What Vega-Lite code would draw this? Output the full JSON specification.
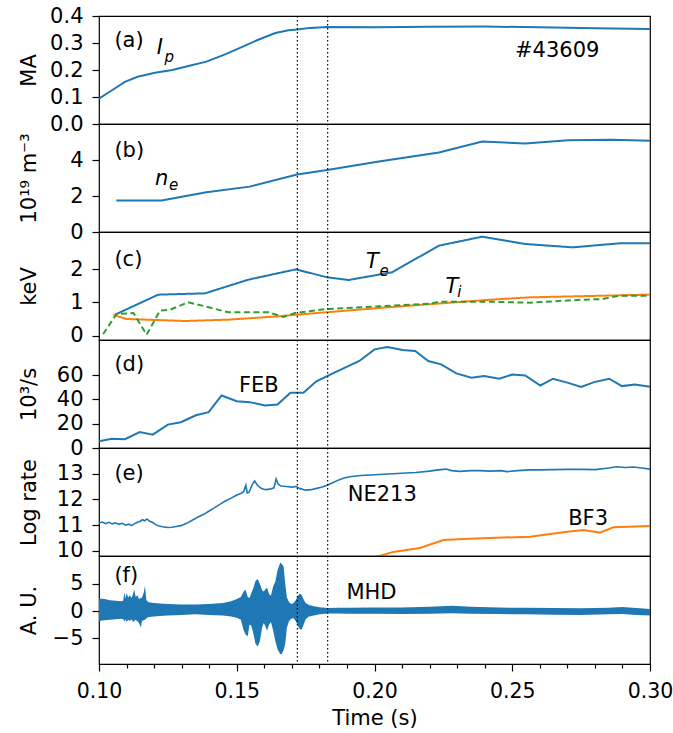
{
  "$schema": "https://vega.github.io/schema/vega-lite/v6.json",
  "padding": {"left": 17, "top": 4, "right": 0, "bottom": 5},
  "background": "white",
  "spacing": 0,
  "bounds": "flush",
  "config": {
    "font": "DejaVu Sans",
    "view": {"stroke": "black", "strokeWidth": 1.2},
    "axis": {"grid": false, "domain": false, "tickColor": "black", "tickWidth": 1.2, "tickSize": 7, "labelColor": "black", "titleColor": "black", "labelFontSize": 21, "titleFontSize": 21, "titleFontWeight": "normal", "labelPadding": 9, "labelOverlap": false},
    "axisY": {"titleX": -64, "titleBaseline": "alphabetic"},
    "text": {"font": "DejaVu Sans", "color": "black"}
  },
  "datasets": {
    "vlines": [{"t": 0.172}, {"t": 0.183}],
    "ip": [
      {"t": 0.1000, "v": 0.094}, {"t": 0.1047, "v": 0.125}, {"t": 0.1094, "v": 0.156}, {"t": 0.1140, "v": 0.175},
      {"t": 0.1203, "v": 0.190}, {"t": 0.1266, "v": 0.200}, {"t": 0.1328, "v": 0.216}, {"t": 0.1390, "v": 0.231},
      {"t": 0.1453, "v": 0.256}, {"t": 0.1516, "v": 0.284}, {"t": 0.1578, "v": 0.312}, {"t": 0.1640, "v": 0.337},
      {"t": 0.1688, "v": 0.347}, {"t": 0.1720, "v": 0.350}, {"t": 0.1766, "v": 0.356}, {"t": 0.1828, "v": 0.359},
      {"t": 0.2000, "v": 0.358}, {"t": 0.2200, "v": 0.360}, {"t": 0.2400, "v": 0.361}, {"t": 0.2600, "v": 0.358},
      {"t": 0.2800, "v": 0.355}, {"t": 0.3000, "v": 0.352}
    ],
    "ne": [
      {"t": 0.1063, "v": 1.75}, {"t": 0.1227, "v": 1.75}, {"t": 0.1390, "v": 2.21}, {"t": 0.1547, "v": 2.52},
      {"t": 0.1719, "v": 3.19}, {"t": 0.1828, "v": 3.44}, {"t": 0.2016, "v": 3.92}, {"t": 0.2234, "v": 4.42},
      {"t": 0.2391, "v": 5.03}, {"t": 0.2547, "v": 4.92}, {"t": 0.2703, "v": 5.10}, {"t": 0.2859, "v": 5.12},
      {"t": 0.3000, "v": 5.07}
    ],
    "temp": [
      {"series": "Te", "t": 0.1058, "v": 0.63}, {"series": "Te", "t": 0.1215, "v": 1.23}, {"series": "Te", "t": 0.1385, "v": 1.27},
      {"series": "Te", "t": 0.1542, "v": 1.68}, {"series": "Te", "t": 0.1715, "v": 1.99}, {"series": "Te", "t": 0.1828, "v": 1.75},
      {"series": "Te", "t": 0.1906, "v": 1.67}, {"series": "Te", "t": 0.2063, "v": 1.90}, {"series": "Te", "t": 0.2234, "v": 2.70},
      {"series": "Te", "t": 0.2391, "v": 2.97}, {"series": "Te", "t": 0.2547, "v": 2.75}, {"series": "Te", "t": 0.2719, "v": 2.65},
      {"series": "Te", "t": 0.2890, "v": 2.77}, {"series": "Te", "t": 0.3000, "v": 2.77},
      {"series": "Ti", "t": 0.1052, "v": 0.62}, {"series": "Ti", "t": 0.1100, "v": 0.50}, {"series": "Ti", "t": 0.1173, "v": 0.48},
      {"series": "Ti", "t": 0.1312, "v": 0.44}, {"series": "Ti", "t": 0.1469, "v": 0.48}, {"series": "Ti", "t": 0.1651, "v": 0.58},
      {"series": "Ti", "t": 0.1719, "v": 0.63}, {"series": "Ti", "t": 0.2047, "v": 0.85}, {"series": "Ti", "t": 0.2406, "v": 1.07},
      {"series": "Ti", "t": 0.2563, "v": 1.15}, {"series": "Ti", "t": 0.3000, "v": 1.23},
      {"series": "Ti2", "t": 0.1015, "v": 0.05}, {"series": "Ti2", "t": 0.1064, "v": 0.65}, {"series": "Ti2", "t": 0.1125, "v": 0.68},
      {"series": "Ti2", "t": 0.1173, "v": 0.03}, {"series": "Ti2", "t": 0.1221, "v": 0.75}, {"series": "Ti2", "t": 0.1258, "v": 0.78},
      {"series": "Ti2", "t": 0.1324, "v": 1.00}, {"series": "Ti2", "t": 0.1385, "v": 0.88}, {"series": "Ti2", "t": 0.1469, "v": 0.70},
      {"series": "Ti2", "t": 0.1615, "v": 0.70}, {"series": "Ti2", "t": 0.1669, "v": 0.56}, {"series": "Ti2", "t": 0.1711, "v": 0.68},
      {"series": "Ti2", "t": 0.1828, "v": 0.80}, {"series": "Ti2", "t": 0.2203, "v": 0.96}, {"series": "Ti2", "t": 0.2234, "v": 1.02},
      {"series": "Ti2", "t": 0.2406, "v": 1.02}, {"series": "Ti2", "t": 0.2563, "v": 0.99}, {"series": "Ti2", "t": 0.2734, "v": 1.07},
      {"series": "Ti2", "t": 0.2828, "v": 1.10}, {"series": "Ti2", "t": 0.2890, "v": 1.20}, {"series": "Ti2", "t": 0.3000, "v": 1.20}
    ],
    "feb": [
      {"t": 0.1000, "v": 5.5}, {"t": 0.1047, "v": 7.7}, {"t": 0.1094, "v": 7.2}, {"t": 0.1148, "v": 13.2},
      {"t": 0.1195, "v": 11.0}, {"t": 0.1250, "v": 19.3}, {"t": 0.1297, "v": 21.2}, {"t": 0.1352, "v": 27.0},
      {"t": 0.1398, "v": 29.5}, {"t": 0.1445, "v": 43.3}, {"t": 0.1500, "v": 38.6}, {"t": 0.1547, "v": 37.8},
      {"t": 0.1602, "v": 35.0}, {"t": 0.1648, "v": 35.8}, {"t": 0.1695, "v": 45.5}, {"t": 0.1742, "v": 45.5},
      {"t": 0.1789, "v": 55.0}, {"t": 0.1828, "v": 59.3}, {"t": 0.1891, "v": 66.0}, {"t": 0.1945, "v": 71.7},
      {"t": 0.2000, "v": 81.3}, {"t": 0.2047, "v": 83.2}, {"t": 0.2102, "v": 80.7}, {"t": 0.2148, "v": 79.9},
      {"t": 0.2195, "v": 71.7}, {"t": 0.2242, "v": 68.9}, {"t": 0.2297, "v": 61.5}, {"t": 0.2352, "v": 57.9},
      {"t": 0.2398, "v": 59.3}, {"t": 0.2453, "v": 57.1}, {"t": 0.2500, "v": 60.6}, {"t": 0.2547, "v": 59.8},
      {"t": 0.2602, "v": 51.5}, {"t": 0.2648, "v": 57.1}, {"t": 0.2703, "v": 53.7}, {"t": 0.2750, "v": 50.4},
      {"t": 0.2797, "v": 54.3}, {"t": 0.2852, "v": 57.1}, {"t": 0.2898, "v": 51.0}, {"t": 0.2945, "v": 52.4},
      {"t": 0.3000, "v": 50.4}
    ],
    "ne213": [
      {"t": 0.1000, "v": 11.08}, {"t": 0.1012, "v": 11.12}, {"t": 0.1024, "v": 11.06}, {"t": 0.1036, "v": 11.11},
      {"t": 0.1048, "v": 11.05}, {"t": 0.1060, "v": 11.09}, {"t": 0.1072, "v": 11.03}, {"t": 0.1084, "v": 11.07},
      {"t": 0.1096, "v": 11.00}, {"t": 0.1108, "v": 11.04}, {"t": 0.1118, "v": 10.98}, {"t": 0.1128, "v": 11.05},
      {"t": 0.1138, "v": 11.10}, {"t": 0.1148, "v": 11.14}, {"t": 0.1158, "v": 11.21}, {"t": 0.1166, "v": 11.17},
      {"t": 0.1174, "v": 11.24}, {"t": 0.1184, "v": 11.15}, {"t": 0.1195, "v": 11.10}, {"t": 0.1205, "v": 11.03},
      {"t": 0.1215, "v": 10.98}, {"t": 0.1230, "v": 10.94}, {"t": 0.1250, "v": 10.91}, {"t": 0.1265, "v": 10.92},
      {"t": 0.1280, "v": 10.95}, {"t": 0.1300, "v": 10.99}, {"t": 0.1320, "v": 11.08}, {"t": 0.1340, "v": 11.20},
      {"t": 0.1360, "v": 11.32}, {"t": 0.1380, "v": 11.42}, {"t": 0.1400, "v": 11.55}, {"t": 0.1420, "v": 11.68},
      {"t": 0.1440, "v": 11.82}, {"t": 0.1460, "v": 11.95}, {"t": 0.1480, "v": 12.05}, {"t": 0.1500, "v": 12.17},
      {"t": 0.1515, "v": 12.23}, {"t": 0.1525, "v": 12.30}, {"t": 0.1533, "v": 12.55}, {"t": 0.1538, "v": 12.25},
      {"t": 0.1545, "v": 12.28}, {"t": 0.1555, "v": 12.55}, {"t": 0.1565, "v": 12.72}, {"t": 0.1575, "v": 12.55},
      {"t": 0.1590, "v": 12.42}, {"t": 0.1605, "v": 12.38}, {"t": 0.1620, "v": 12.40}, {"t": 0.1635, "v": 12.45},
      {"t": 0.1643, "v": 12.80}, {"t": 0.1650, "v": 12.60}, {"t": 0.1660, "v": 12.52}, {"t": 0.1680, "v": 12.50},
      {"t": 0.1700, "v": 12.48}, {"t": 0.1715, "v": 12.50}, {"t": 0.1730, "v": 12.42}, {"t": 0.1750, "v": 12.36},
      {"t": 0.1770, "v": 12.38}, {"t": 0.1790, "v": 12.43}, {"t": 0.1810, "v": 12.48}, {"t": 0.1830, "v": 12.56},
      {"t": 0.1850, "v": 12.66}, {"t": 0.1870, "v": 12.76}, {"t": 0.1890, "v": 12.83}, {"t": 0.1910, "v": 12.88},
      {"t": 0.1950, "v": 12.93}, {"t": 0.2000, "v": 12.96}, {"t": 0.2050, "v": 12.99}, {"t": 0.2100, "v": 13.02},
      {"t": 0.2150, "v": 13.05}, {"t": 0.2200, "v": 13.10}, {"t": 0.2230, "v": 13.15}, {"t": 0.2260, "v": 13.18},
      {"t": 0.2280, "v": 13.12}, {"t": 0.2310, "v": 13.09}, {"t": 0.2350, "v": 13.12}, {"t": 0.2380, "v": 13.12},
      {"t": 0.2420, "v": 13.10}, {"t": 0.2460, "v": 13.12}, {"t": 0.2480, "v": 13.08}, {"t": 0.2520, "v": 13.12},
      {"t": 0.2560, "v": 13.15}, {"t": 0.2600, "v": 13.15}, {"t": 0.2650, "v": 13.16}, {"t": 0.2700, "v": 13.17},
      {"t": 0.2750, "v": 13.17}, {"t": 0.2800, "v": 13.16}, {"t": 0.2850, "v": 13.22}, {"t": 0.2880, "v": 13.27},
      {"t": 0.2910, "v": 13.24}, {"t": 0.2940, "v": 13.26}, {"t": 0.2970, "v": 13.22}, {"t": 0.3000, "v": 13.18}
    ],
    "bf3": [
      {"t": 0.1985, "v": 9.70}, {"t": 0.2068, "v": 9.96}, {"t": 0.2165, "v": 10.11}, {"t": 0.2250, "v": 10.42},
      {"t": 0.2322, "v": 10.46}, {"t": 0.2444, "v": 10.51}, {"t": 0.2564, "v": 10.55}, {"t": 0.2685, "v": 10.72},
      {"t": 0.2758, "v": 10.81}, {"t": 0.2818, "v": 10.71}, {"t": 0.2867, "v": 10.92}, {"t": 0.3000, "v": 10.97}
    ],
    "mhd": [
      {"t": 0.1000, "hi": 2.3, "lo": -1.8}, {"t": 0.1020, "hi": 2.2, "lo": -1.7}, {"t": 0.1040, "hi": 2.0, "lo": -1.6},
      {"t": 0.1060, "hi": 1.9, "lo": -1.5}, {"t": 0.1080, "hi": 1.8, "lo": -1.4}, {"t": 0.1088, "hi": 1.9, "lo": -1.5},
      {"t": 0.1092, "hi": 3.4, "lo": -1.9}, {"t": 0.1096, "hi": 2.3, "lo": -1.5}, {"t": 0.1100, "hi": 3.3, "lo": -2.0},
      {"t": 0.1106, "hi": 2.5, "lo": -1.6}, {"t": 0.1112, "hi": 2.9, "lo": -1.8}, {"t": 0.1118, "hi": 2.4, "lo": -1.5},
      {"t": 0.1124, "hi": 3.2, "lo": -2.0}, {"t": 0.1128, "hi": 4.0, "lo": -1.8}, {"t": 0.1133, "hi": 2.6, "lo": -1.6},
      {"t": 0.1140, "hi": 2.9, "lo": -1.9}, {"t": 0.1145, "hi": 2.2, "lo": -2.2}, {"t": 0.1152, "hi": 2.4, "lo": -3.0},
      {"t": 0.1156, "hi": 2.5, "lo": -1.8}, {"t": 0.1162, "hi": 3.3, "lo": -1.7}, {"t": 0.1167, "hi": 4.6, "lo": -1.6},
      {"t": 0.1172, "hi": 2.0, "lo": -1.3}, {"t": 0.1180, "hi": 1.6, "lo": -1.1}, {"t": 0.1200, "hi": 1.5, "lo": -1.0},
      {"t": 0.1220, "hi": 1.4, "lo": -0.9}, {"t": 0.1250, "hi": 1.3, "lo": -0.8}, {"t": 0.1300, "hi": 1.2, "lo": -0.7},
      {"t": 0.1350, "hi": 1.2, "lo": -0.6}, {"t": 0.1400, "hi": 1.3, "lo": -0.7}, {"t": 0.1450, "hi": 1.5, "lo": -0.8},
      {"t": 0.1480, "hi": 1.8, "lo": -1.0}, {"t": 0.1500, "hi": 2.2, "lo": -1.2}, {"t": 0.1515, "hi": 2.6, "lo": -1.6},
      {"t": 0.1525, "hi": 3.6, "lo": -3.5}, {"t": 0.1532, "hi": 3.9, "lo": -4.3}, {"t": 0.1540, "hi": 2.6, "lo": -4.6},
      {"t": 0.1546, "hi": 2.4, "lo": -2.5}, {"t": 0.1552, "hi": 3.2, "lo": -2.6}, {"t": 0.1560, "hi": 4.2, "lo": -4.0},
      {"t": 0.1568, "hi": 5.5, "lo": -6.0}, {"t": 0.1576, "hi": 5.9, "lo": -6.5}, {"t": 0.1584, "hi": 5.0, "lo": -5.5},
      {"t": 0.1592, "hi": 3.8, "lo": -3.0}, {"t": 0.1598, "hi": 3.6, "lo": -2.2}, {"t": 0.1604, "hi": 4.0, "lo": -2.8},
      {"t": 0.1610, "hi": 4.3, "lo": -3.6}, {"t": 0.1617, "hi": 3.2, "lo": -2.5}, {"t": 0.1624, "hi": 2.8, "lo": -2.0},
      {"t": 0.1632, "hi": 4.5, "lo": -3.5}, {"t": 0.1640, "hi": 5.4, "lo": -5.5}, {"t": 0.1648, "hi": 7.5, "lo": -7.0},
      {"t": 0.1658, "hi": 8.9, "lo": -7.9}, {"t": 0.1664, "hi": 8.6, "lo": -7.8}, {"t": 0.1670, "hi": 8.2, "lo": -7.2},
      {"t": 0.1676, "hi": 5.0, "lo": -6.0}, {"t": 0.1682, "hi": 2.5, "lo": -3.0}, {"t": 0.1690, "hi": 1.6, "lo": -1.8},
      {"t": 0.1698, "hi": 1.3, "lo": -1.4}, {"t": 0.1706, "hi": 1.5, "lo": -1.3}, {"t": 0.1714, "hi": 2.0, "lo": -1.8},
      {"t": 0.1722, "hi": 2.8, "lo": -2.7}, {"t": 0.1728, "hi": 3.2, "lo": -3.3}, {"t": 0.1735, "hi": 3.0, "lo": -3.4},
      {"t": 0.1742, "hi": 2.2, "lo": -2.6}, {"t": 0.1750, "hi": 1.5, "lo": -1.5}, {"t": 0.1762, "hi": 1.1, "lo": -1.0},
      {"t": 0.1780, "hi": 0.9, "lo": -0.8}, {"t": 0.1800, "hi": 0.7, "lo": -0.6}, {"t": 0.1830, "hi": 0.55, "lo": -0.45},
      {"t": 0.1870, "hi": 0.6, "lo": -0.45}, {"t": 0.1900, "hi": 0.6, "lo": -0.5}, {"t": 0.2000, "hi": 0.65, "lo": -0.5},
      {"t": 0.2100, "hi": 0.65, "lo": -0.55}, {"t": 0.2200, "hi": 0.8, "lo": -0.5}, {"t": 0.2280, "hi": 1.0, "lo": -0.4},
      {"t": 0.2350, "hi": 0.8, "lo": -0.5}, {"t": 0.2450, "hi": 0.65, "lo": -0.55}, {"t": 0.2550, "hi": 0.6, "lo": -0.6},
      {"t": 0.2650, "hi": 0.55, "lo": -0.65}, {"t": 0.2750, "hi": 0.5, "lo": -0.7}, {"t": 0.2850, "hi": 0.6, "lo": -0.6},
      {"t": 0.2900, "hi": 0.75, "lo": -0.55}, {"t": 0.2950, "hi": 0.55, "lo": -0.7}, {"t": 0.3000, "hi": 0.4, "lo": -0.8}
    ],
    "lab_a": [{"t": 0.1056, "v": 0.308, "label": "(a)"}, {"t": 0.251, "v": 0.269, "label": "#43609"}],
    "sym_a": [{"t": 0.121, "v": 0.281, "label": "I"}],
    "sub_a": [{"t": 0.1238, "v": 0.25, "label": "p"}],
    "lab_b": [{"t": 0.1056, "v": 4.51, "label": "(b)"}],
    "sym_b": [{"t": 0.1203, "v": 2.94, "label": "n"}],
    "sub_b": [{"t": 0.1254, "v": 2.62, "label": "e"}],
    "lab_c": [{"t": 0.1056, "v": 2.28, "label": "(c)"}],
    "sym_c": [{"t": 0.1969, "v": 2.2, "label": "T"}, {"t": 0.2258, "v": 1.45, "label": "T"}],
    "sub_c": [{"t": 0.2018, "v": 1.95, "label": "e"}, {"t": 0.2300, "v": 1.3, "label": "i"}],
    "lab_d": [{"t": 0.1056, "v": 68, "label": "(d)"}, {"t": 0.1508, "v": 51, "label": "FEB"}],
    "lab_e": [{"t": 0.1056, "v": 13.0, "label": "(e)"}, {"t": 0.1903, "v": 12.17, "label": "NE213"}, {"t": 0.2703, "v": 11.25, "label": "BF3"}],
    "lab_f": [{"t": 0.1056, "v": 6.45, "label": "(f)"}, {"t": 0.1898, "v": 3.37, "label": "MHD"}]
  },
  "vconcat": [
    {
      "width": 551, "height": 108,
      "resolve": {"axis": {"y": "independent"}},
      "layer": [
        {"data": {"name": "ip"}, "mark": {"type": "line", "color": "#1f77b4", "strokeWidth": 2},
         "encoding": {"x": {"field": "t", "type": "quantitative", "scale": {"domain": [0.1, 0.3], "nice": false, "zero": false}, "axis": null},
                      "y": {"field": "v", "type": "quantitative", "scale": {"domain": [0, 0.4], "nice": false, "zero": false}, "axis": {"title": "MA", "values": [0, 0.1, 0.2, 0.3, 0.4], "format": ".1f", "labelOverlap": false}}}},
        {"data": {"name": "lab_a"}, "mark": {"type": "text", "align": "left", "baseline": "middle", "fontSize": 21},
         "encoding": {"x": {"field": "t", "type": "quantitative", "axis": null}, "y": {"field": "v", "type": "quantitative", "axis": null}, "text": {"field": "label"}}},
        {"data": {"name": "sym_a"}, "mark": {"type": "text", "align": "left", "baseline": "middle", "fontSize": 21, "fontStyle": "italic"},
         "encoding": {"x": {"field": "t", "type": "quantitative", "axis": null}, "y": {"field": "v", "type": "quantitative", "axis": null}, "text": {"field": "label"}}},
        {"data": {"name": "sub_a"}, "mark": {"type": "text", "align": "left", "baseline": "middle", "fontSize": 15, "fontStyle": "italic"},
         "encoding": {"x": {"field": "t", "type": "quantitative", "axis": null}, "y": {"field": "v", "type": "quantitative", "axis": null}, "text": {"field": "label"}}},
        {"data": {"name": "vlines"}, "mark": {"type": "rule", "color": "black", "strokeWidth": 1.2, "strokeDash": [1.5, 2.5]},
         "encoding": {"x": {"field": "t", "type": "quantitative", "axis": null}}}
      ]
    },
    {
      "width": 551, "height": 108,
      "resolve": {"axis": {"y": "independent"}},
      "layer": [
        {"data": {"name": "ne"}, "mark": {"type": "line", "color": "#1f77b4", "strokeWidth": 2},
         "encoding": {"x": {"field": "t", "type": "quantitative", "scale": {"domain": [0.1, 0.3], "nice": false, "zero": false}, "axis": null},
                      "y": {"field": "v", "type": "quantitative", "scale": {"domain": [0, 6], "nice": false, "zero": false}, "axis": {"title": "10¹⁹ m⁻³", "values": [0, 2, 4], "labelOverlap": false}}}},
        {"data": {"name": "lab_b"}, "mark": {"type": "text", "align": "left", "baseline": "middle", "fontSize": 21},
         "encoding": {"x": {"field": "t", "type": "quantitative", "axis": null}, "y": {"field": "v", "type": "quantitative", "axis": null}, "text": {"field": "label"}}},
        {"data": {"name": "sym_b"}, "mark": {"type": "text", "align": "left", "baseline": "middle", "fontSize": 21, "fontStyle": "italic"},
         "encoding": {"x": {"field": "t", "type": "quantitative", "axis": null}, "y": {"field": "v", "type": "quantitative", "axis": null}, "text": {"field": "label"}}},
        {"data": {"name": "sub_b"}, "mark": {"type": "text", "align": "left", "baseline": "middle", "fontSize": 15, "fontStyle": "italic"},
         "encoding": {"x": {"field": "t", "type": "quantitative", "axis": null}, "y": {"field": "v", "type": "quantitative", "axis": null}, "text": {"field": "label"}}},
        {"data": {"name": "vlines"}, "mark": {"type": "rule", "color": "black", "strokeWidth": 1.2, "strokeDash": [1.5, 2.5]},
         "encoding": {"x": {"field": "t", "type": "quantitative", "axis": null}}}
      ]
    },
    {
      "width": 551, "height": 108,
      "resolve": {"axis": {"y": "independent"}},
      "layer": [
        {"data": {"name": "temp"}, "mark": {"type": "line", "strokeWidth": 2},
         "encoding": {"x": {"field": "t", "type": "quantitative", "scale": {"domain": [0.1, 0.3], "nice": false, "zero": false}, "axis": null},
                      "y": {"field": "v", "type": "quantitative", "scale": {"domain": [-0.13, 3.11], "nice": false, "zero": false}, "axis": {"title": "keV", "values": [0, 1, 2], "labelOverlap": false}},
                      "color": {"field": "series", "type": "nominal", "scale": {"domain": ["Te", "Ti", "Ti2"], "range": ["#1f77b4", "#ff7f0e", "#2ca02c"]}, "legend": null},
                      "strokeDash": {"field": "series", "type": "nominal", "scale": {"domain": ["Te", "Ti", "Ti2"], "range": [[1, 0], [1, 0], [6, 3.5]]}, "legend": null}}},
        {"data": {"name": "lab_c"}, "mark": {"type": "text", "align": "left", "baseline": "middle", "fontSize": 21},
         "encoding": {"x": {"field": "t", "type": "quantitative", "axis": null}, "y": {"field": "v", "type": "quantitative", "axis": null}, "text": {"field": "label"}}},
        {"data": {"name": "sym_c"}, "mark": {"type": "text", "align": "left", "baseline": "middle", "fontSize": 21, "fontStyle": "italic"},
         "encoding": {"x": {"field": "t", "type": "quantitative", "axis": null}, "y": {"field": "v", "type": "quantitative", "axis": null}, "text": {"field": "label"}}},
        {"data": {"name": "sub_c"}, "mark": {"type": "text", "align": "left", "baseline": "middle", "fontSize": 15, "fontStyle": "italic"},
         "encoding": {"x": {"field": "t", "type": "quantitative", "axis": null}, "y": {"field": "v", "type": "quantitative", "axis": null}, "text": {"field": "label"}}},
        {"data": {"name": "vlines"}, "mark": {"type": "rule", "color": "black", "strokeWidth": 1.2, "strokeDash": [1.5, 2.5]},
         "encoding": {"x": {"field": "t", "type": "quantitative", "axis": null}}}
      ]
    },
    {
      "width": 551, "height": 108,
      "resolve": {"axis": {"y": "independent"}},
      "layer": [
        {"data": {"name": "feb"}, "mark": {"type": "line", "color": "#1f77b4", "strokeWidth": 2},
         "encoding": {"x": {"field": "t", "type": "quantitative", "scale": {"domain": [0.1, 0.3], "nice": false, "zero": false}, "axis": null},
                      "y": {"field": "v", "type": "quantitative", "scale": {"domain": [0, 89], "nice": false, "zero": false}, "axis": {"title": "10³/s", "values": [0, 20, 40, 60], "labelOverlap": false}}}},
        {"data": {"name": "lab_d"}, "mark": {"type": "text", "align": "left", "baseline": "middle", "fontSize": 21},
         "encoding": {"x": {"field": "t", "type": "quantitative", "axis": null}, "y": {"field": "v", "type": "quantitative", "axis": null}, "text": {"field": "label"}}},
        {"data": {"name": "vlines"}, "mark": {"type": "rule", "color": "black", "strokeWidth": 1.2, "strokeDash": [1.5, 2.5]},
         "encoding": {"x": {"field": "t", "type": "quantitative", "axis": null}}}
      ]
    },
    {
      "width": 551, "height": 108,
      "resolve": {"axis": {"y": "independent"}},
      "layer": [
        {"data": {"name": "ne213"}, "mark": {"type": "line", "color": "#1f77b4", "strokeWidth": 1.6},
         "encoding": {"x": {"field": "t", "type": "quantitative", "scale": {"domain": [0.1, 0.3], "nice": false, "zero": false}, "axis": null},
                      "y": {"field": "v", "type": "quantitative", "scale": {"domain": [9.8, 14.0], "nice": false, "zero": false}, "axis": {"title": "Log rate", "values": [10, 11, 12, 13], "labelOverlap": false}}}},
        {"data": {"name": "bf3"}, "mark": {"type": "line", "color": "#ff7f0e", "strokeWidth": 2, "clip": true},
         "encoding": {"x": {"field": "t", "type": "quantitative", "axis": null}, "y": {"field": "v", "type": "quantitative", "axis": null}}},
        {"data": {"name": "lab_e"}, "mark": {"type": "text", "align": "left", "baseline": "middle", "fontSize": 21},
         "encoding": {"x": {"field": "t", "type": "quantitative", "axis": null}, "y": {"field": "v", "type": "quantitative", "axis": null}, "text": {"field": "label"}}},
        {"data": {"name": "vlines"}, "mark": {"type": "rule", "color": "black", "strokeWidth": 1.2, "strokeDash": [1.5, 2.5]},
         "encoding": {"x": {"field": "t", "type": "quantitative", "axis": null}}}
      ]
    },
    {
      "width": 551, "height": 108,
      "resolve": {"axis": {"x": "independent", "y": "independent"}},
      "layer": [
        {"data": {"name": "mhd"}, "mark": {"type": "area", "color": "#1f77b4", "opacity": 1},
         "encoding": {"x": {"field": "t", "type": "quantitative", "scale": {"domain": [0.1, 0.3], "nice": false, "zero": false},
                            "axis": {"orient": "bottom", "title": "Time (s)", "values": [0.1, 0.15, 0.2, 0.25, 0.3], "format": ".2f", "labelFlush": false, "labelFontSize": 20.5, "labelPadding": 10, "titlePadding": 6, "labelOverlap": false}},
                      "y": {"field": "hi", "type": "quantitative", "scale": {"domain": [-9.7, 10.1], "nice": false, "zero": false}, "axis": {"title": "A. U.", "values": [-5, 0, 5], "labelOverlap": false}},
                      "y2": {"field": "lo"}}},
        {"data": {"name": "lab_f"}, "mark": {"type": "text", "align": "left", "baseline": "middle", "fontSize": 21},
         "encoding": {"x": {"field": "t", "type": "quantitative", "axis": null}, "y": {"field": "v", "type": "quantitative", "axis": null}, "text": {"field": "label"}}},
        {"data": {"name": "vlines"}, "mark": {"type": "rule", "color": "black", "strokeWidth": 1.2, "strokeDash": [1.5, 2.5]},
         "encoding": {"x": {"field": "t", "type": "quantitative",
                            "axis": {"orient": "bottom", "title": null, "labels": false, "tickSize": 4, "values": [0.11, 0.12, 0.13, 0.14, 0.16, 0.17, 0.18, 0.19, 0.21, 0.22, 0.23, 0.24, 0.26, 0.27, 0.28, 0.29]}}}}
      ]
    }
  ]
}
